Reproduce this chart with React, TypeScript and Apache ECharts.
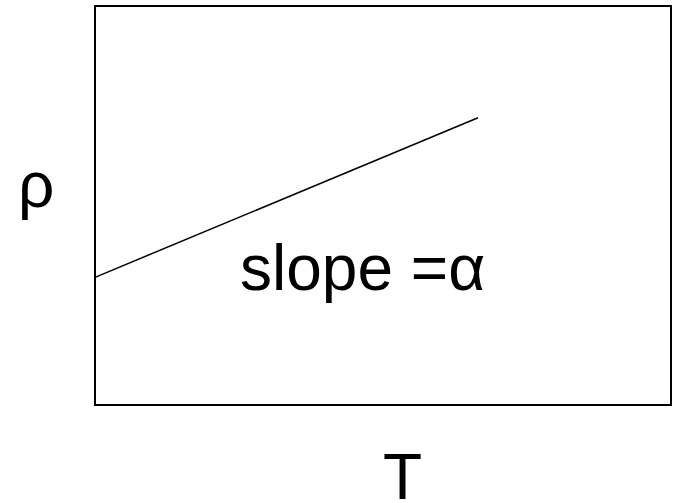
import React, { useEffect, useRef } from "react";
import * as echarts from "echarts";

const lineX = [0, 0.665];
const lineY = [0.32, 0.72];
const xLabel = "T";
const yLabel = "ρ";
const slopeLabel = "slope =α";

export default function App() {
  const ref = useRef<HTMLDivElement>(null);
  useEffect(() => {
    if (!ref.current) return;
    const chart = echarts.init(ref.current, null, { renderer: "svg" });
    const font = "'Liberation Sans', Arial, sans-serif";
    chart.setOption({
      animation: false,
      backgroundColor: "#ffffff",
      grid: {
        left: 95,
        top: 6,
        width: 576,
        height: 399,
        show: true,
        borderColor: "#000",
        borderWidth: 2,
        backgroundColor: "transparent",
      },
      xAxis: {
        type: "value",
        min: 0,
        max: 1,
        axisLine: { show: false },
        axisTick: { show: false },
        axisLabel: { show: false },
        splitLine: { show: false },
      },
      yAxis: {
        type: "value",
        min: 0,
        max: 1,
        axisLine: { show: false },
        axisTick: { show: false },
        axisLabel: { show: false },
        splitLine: { show: false },
      },
      series: [
        {
          type: "line",
          data: lineX.map((x, i) => [x, lineY[i]]),
          symbol: "none",
          lineStyle: { color: "#000", width: 1.5 },
        },
      ],
      graphic: [
        {
          type: "text",
          left: 18,
          top: 153,
          style: { text: yLabel, font: `64px ${font}`, fill: "#000" },
        },
        {
          type: "text",
          left: 240,
          top: 236,
          style: { text: slopeLabel, font: `64px ${font}`, fill: "#000" },
        },
        {
          type: "text",
          left: 383,
          top: 445,
          style: { text: xLabel, font: `64px ${font}`, lineHeight: 48, fill: "#000" },
        },
      ],
    });
    return () => chart.dispose();
  }, []);
  return <div ref={ref} style={{ width: 675, height: 503, position: "absolute", left: 0, top: 0 }} />;
}
